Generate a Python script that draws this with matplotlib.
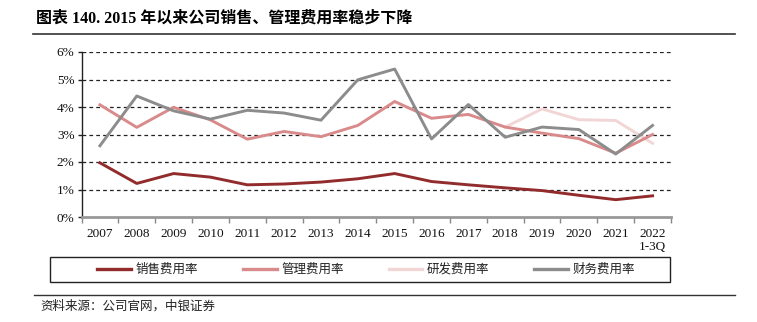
import matplotlib
matplotlib.use("Agg")
import matplotlib.pyplot as plt
from matplotlib.lines import Line2D
from matplotlib.patches import Rectangle
from matplotlib.ticker import FuncFormatter
import numpy as np

years = ["2007", "2008", "2009", "2010", "2011", "2012", "2013", "2014",
         "2015", "2016", "2017", "2018", "2019", "2020", "2021", "2022\n1-3Q"]
sales = [1.97, 1.22, 1.58, 1.45, 1.17, 1.20, 1.27, 1.39,
         1.58, 1.29, 1.17, 1.06, 0.96, 0.79, 0.63, 0.77]
admin = [4.08, 3.26, 3.99, 3.53, 2.83, 3.11, 2.92, 3.33,
         4.20, 3.59, 3.73, 3.27, 3.05, 2.85, 2.32, 3.00]
rnd_years_idx = [11, 12, 13, 14, 15]
rnd = [3.27, 3.93, 3.54, 3.51, 2.68]
finance = [2.59, 4.40, 3.86, 3.56, 3.88, 3.78, 3.52, 4.99,
           5.38, 2.84, 4.09, 2.90, 3.27, 3.18, 2.29, 3.33]
series_names = ["销售费用率", "管理费用率", "研发费用率", "财务费用率"]
yticks = [0, 1, 2, 3, 4, 5, 6]

W, H = 757, 322
fig = plt.figure(figsize=(W / 100, H / 100), dpi=100)
serif = ["Liberation Serif", "Noto Sans CJK SC"]
cjk = ["Noto Sans CJK SC", "DejaVu Sans"]

def fx(px):
    return px / W

def fy(py):
    return 1 - py / H

ax = fig.add_axes([fx(81.5), fy(217), fx(671 - 81.5), (217 - 52) / H])

c_sales = "#922B2B"
c_admin = "#D98A8A"
c_rnd = "#F2D6D6"
c_fin = "#8C8C8C"

x = np.arange(len(years))
ax.plot(x, finance, color=c_fin, lw=2.1, zorder=3)
ax.plot(np.array(rnd_years_idx), rnd, color=c_rnd, lw=2.1, zorder=2)
ax.plot(x, admin, color=c_admin, lw=2.1, zorder=2.5)
ax.plot(x, sales, color=c_sales, lw=2.1, zorder=3)

ax.set_xlim(-0.5, len(years) - 0.5)
ax.set_ylim(0, 6)
ax.set_yticks(yticks)
ax.yaxis.set_major_formatter(FuncFormatter(lambda v, p: f"{int(v)}%"))
for yv in yticks[1:]:
    ax.axhline(yv, color="#222222", lw=0.9, ls=(0, (3, 2.5)), zorder=1)

ax.set_xticks(np.arange(len(years) + 1) - 0.5)
ax.set_xticklabels([])
ax.set_xticks(x, minor=True)
ax.set_xticklabels(years, minor=True)
ax.tick_params(axis="x", which="major", length=4, width=1, color="#888888", direction="out")
ax.tick_params(axis="x", which="minor", length=0, pad=8)
ax.tick_params(axis="y", length=3, width=1, color="#222222", pad=2)
for lab in ax.get_xticklabels(minor=True) + ax.get_yticklabels():
    lab.set_family(serif)
    lab.set_fontsize(9.5)
    lab.set_color("#111111")
for lab in ax.get_xticklabels(minor=True):
    lab.set_linespacing(1.05)
    lab.set_verticalalignment("top")

ax.spines["top"].set_visible(False)
ax.spines["right"].set_visible(False)
ax.spines["left"].set_color("#222222")
ax.spines["left"].set_linewidth(1.0)
ax.spines["bottom"].set_color("#999999")
ax.spines["bottom"].set_linewidth(2.0)

# Title
fig.text(fx(36), fy(19), "图表 140. 2015 年以来公司销售、管理费用率稳步下降",
         family=serif, fontweight="bold", fontsize=11.5, va="center", ha="left")
fig.add_artist(Line2D([fx(33), fx(735)], [fy(34), fy(34)], color="#333333", lw=1.2))

# Legend box
fig.add_artist(Rectangle((fx(50), fy(282)), fx(620), (282 - 257) / H,
                         transform=fig.transFigure, fill=False,
                         edgecolor="#222222", lw=1.0))
handles = [Line2D([], [], color=c, lw=2.4) for c in (c_sales, c_admin, c_rnd, c_fin)]
leg = fig.legend(handles, series_names, loc="center",
                 bbox_to_anchor=(fx(366), fy(269.5)),
                 ncol=4, frameon=False,
                 handlelength=2.7, handletextpad=0.35, columnspacing=3.6,
                 borderaxespad=0, borderpad=0,
                 prop={"family": cjk, "size": 9})
for t in leg.get_texts():
    t.set_color("#222222")

# Bottom line and source
fig.add_artist(Line2D([fx(34), fx(735)], [fy(295), fy(295)], color="#333333", lw=1.0))
fig.text(fx(40), fy(306), "资料来源：公司官网，中银证券", family=cjk, fontsize=9,
         va="center", ha="left", color="#222222")

fig.savefig("out.png", dpi=100)
